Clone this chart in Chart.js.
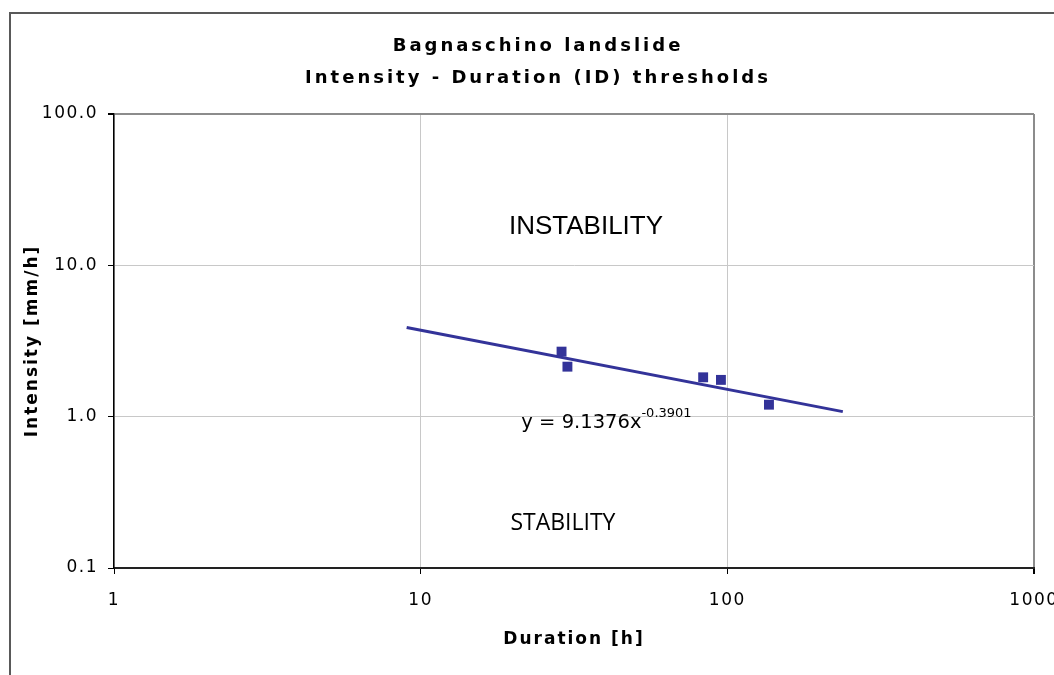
<!DOCTYPE html>
<html>
<head>
<meta charset="utf-8">
<script src="https://cdn.jsdelivr.net/npm/chart.js@4/dist/chart.umd.min.js"></script>
<style>
  html, body { margin: 0; padding: 0; background: #ffffff; }
  canvas { display: block; }
</style>
</head>
<body>
<canvas id="c" width="1054" height="675" style="width:1054px;height:675px"></canvas>
<script>
// ---- data ----
const eventDurations = [28.8, 30.1, 83.4, 95.3, 136.7];      // h
const eventIntensities = [2.69, 2.14, 1.82, 1.75, 1.20];     // mm/h
const thresholdDurations = [9.0, 238];                       // trend line ends (h)
const thresholdIntensities = [3.88, 1.08];                   // trend line ends (mm/h)
const xTickValues = [1, 10, 100, 1000];
const xTickLabels = ['1', '10', '100', '1000'];
const yTickValues = [0.1, 1, 10, 100];
const yTickLabels = ['0.1', '1.0', '10.0', '100.0'];
const titleLines = ['Bagnaschino landslide', 'Intensity - Duration (ID) thresholds'];
const xTitle = 'Duration [h]';
const yTitle = 'Intensity [mm/h]';
const equationMain = 'y = 9.1376x';
const equationExp = '-0.3901';

// ---- annotation placement (in data coordinates) ----
const notes = [
  { text: 'INSTABILITY', x: 34.6, y: 18.0, font: '26px "Liberation Sans"', align: 'center' },
  { text: 'STABILITY', x: 29.1, y: 0.197, font: '23px "Open Sans"', align: 'center' }
];
const equationPos = { x: 21.3, y: 0.913 };

const BLUE = '#333399';

function withSpacing(fn, spacing) {
  return function (...args) {
    const ctx = this.ctx;
    const prev = ctx.letterSpacing;
    ctx.letterSpacing = spacing;
    try { return fn.apply(this, args); } finally { ctx.letterSpacing = prev; }
  };
}

const spacingPlugin = {
  id: 'spacing',
  beforeDraw(chart) {
    for (const s of Object.values(chart.scales)) {
      if (!s._spaced) {
        s.drawTitle = withSpacing(s.drawTitle, '2px');
        s.drawLabels = withSpacing(s.drawLabels, '1.5px');
        s._spaced = true;
      }
    }
    const t = chart.titleBlock;
    if (t && !t._spaced) { t.draw = withSpacing(t.draw, '3px'); t._spaced = true; }
  }
};

const framePlugin = {
  id: 'frame',
  beforeDraw(chart) {
    const ctx = chart.ctx;
    ctx.save();
    ctx.fillStyle = '#ffffff';
    ctx.fillRect(0, 0, chart.width, chart.height);
    ctx.strokeStyle = '#595959';
    ctx.lineWidth = 2;
    ctx.strokeRect(10, 13, chart.width + 50, chart.height + 50);
    ctx.restore();
  }
};

const notesPlugin = {
  id: 'notes',
  afterDatasetsDraw(chart) {
    const ctx = chart.ctx;
    const xs = chart.scales.x, ys = chart.scales.y;
    ctx.save();
    ctx.fillStyle = '#000000';
    ctx.textBaseline = 'middle';
    for (const n of notes) {
      ctx.font = n.font;
      ctx.textAlign = n.align;
      ctx.fillText(n.text, xs.getPixelForValue(n.x), ys.getPixelForValue(n.y));
    }
    // trendline equation with superscript exponent
    const ex = xs.getPixelForValue(equationPos.x);
    const ey = ys.getPixelForValue(equationPos.y);
    ctx.textAlign = 'left';
    ctx.font = '19.5px "DejaVu Sans"';
    ctx.fillText(equationMain, ex, ey);
    const w = ctx.measureText(equationMain).width;
    ctx.font = '13px "DejaVu Sans"';
    ctx.fillText(equationExp, ex + w, ey - 9);
    ctx.restore();
  }
};

new Chart(document.getElementById('c'), {
  type: 'scatter',
  data: {
    datasets: [
      {
        label: 'events',
        data: eventDurations.map((d, i) => ({ x: d, y: eventIntensities[i] })),
        pointStyle: 'rect',
        pointRadius: 7,
        pointHoverRadius: 7,
        backgroundColor: BLUE,
        borderColor: BLUE,
        borderWidth: 0,
        order: 0
      },
      {
        type: 'line',
        label: 'threshold',
        data: thresholdDurations.map((d, i) => ({ x: d, y: thresholdIntensities[i] })),
        borderColor: BLUE,
        borderWidth: 3,
        pointRadius: 0,
        fill: false,
        tension: 0,
        order: 1
      }
    ]
  },
  options: {
    responsive: false,
    animation: false,
    devicePixelRatio: 1,
    layout: { padding: { left: 22, right: 0, top: 0, bottom: 0 } },
    plugins: {
      legend: { display: false },
      tooltip: { enabled: false },
      title: {
        display: true,
        text: titleLines,
        color: '#000000',
        font: { family: '"DejaVu Sans"', size: 18, weight: 'bold', lineHeight: 32 / 18 },
        padding: { top: 30, bottom: 20 }
      }
    },
    scales: {
      x: {
        type: 'logarithmic',
        min: 1,
        max: 1000,
        afterBuildTicks(scale) { scale.ticks = xTickValues.map(v => ({ value: v })); },
        afterFit(scale) { scale.height = 107; scale.paddingLeft = 0; scale.paddingRight = 20; },
        ticks: {
          autoSkip: false,
          maxRotation: 0,
          padding: 16,
          color: '#000000',
          font: { family: '"DejaVu Sans"', size: 17 },
          callback(value, index) { return xTickLabels[index]; }
        },
        grid: {
          color: (c) => (c.tick && c.tick.value === 1000 ? '#8c8c8c' : '#c8c8c8'),
          lineWidth: (c) => (c.tick && c.tick.value === 1000 ? 2 : 1),
          tickColor: '#000000',
          tickLength: 6,
          drawTicks: true
        },
        border: { display: true, color: '#222222', width: 2 },
        title: {
          display: true,
          text: xTitle,
          color: '#000000',
          font: { family: '"DejaVu Sans"', size: 17, weight: 'bold', lineHeight: 1.2 },
          padding: { top: 0, bottom: 25 }
        }
      },
      y: {
        type: 'logarithmic',
        min: 0.1,
        max: 100,
        afterBuildTicks(scale) { scale.ticks = yTickValues.map(v => ({ value: v })); },
        afterFit(scale) { scale.width = 92; scale.paddingTop = 0; scale.paddingBottom = 0; },
        ticks: {
          autoSkip: false,
          padding: 10,
          color: '#000000',
          font: { family: '"DejaVu Sans"', size: 17 },
          callback(value, index) { return yTickLabels[index]; }
        },
        grid: {
          color: (c) => (c.tick && c.tick.value === 100 ? '#8c8c8c' : '#c8c8c8'),
          lineWidth: (c) => (c.tick && c.tick.value === 100 ? 2 : 1),
          tickColor: '#000000',
          tickLength: 6,
          drawTicks: true
        },
        border: { display: true, color: '#000000', width: 1.5 },
        title: {
          display: true,
          text: yTitle,
          color: '#000000',
          font: { family: '"DejaVu Sans"', size: 17, weight: 'bold', lineHeight: 1.2 },
          padding: { top: 0, bottom: 0 }
        }
      }
    }
  },
  plugins: [framePlugin, spacingPlugin, notesPlugin]
});
</script>
</body>
</html>
